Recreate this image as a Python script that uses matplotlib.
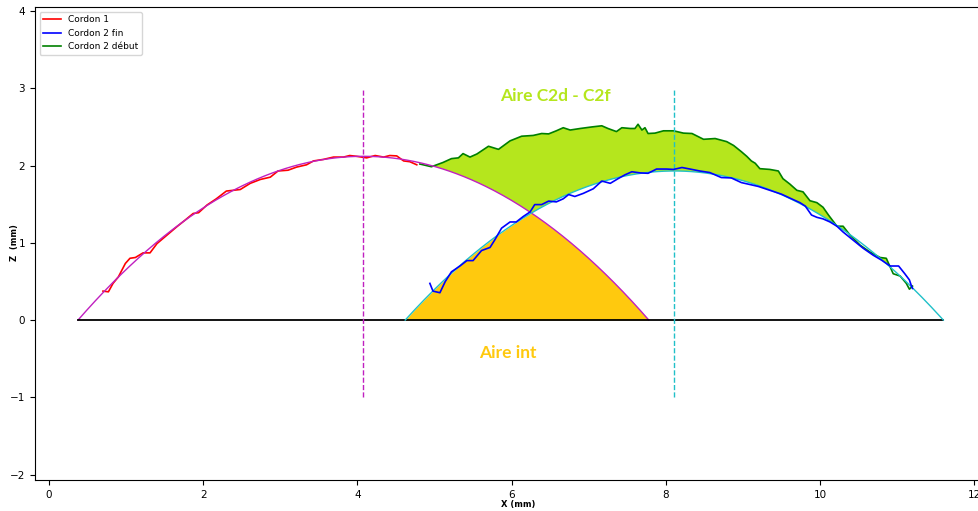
import numpy as np
import matplotlib
matplotlib.use("Agg")
import matplotlib.pyplot as plt

# ---- data ----
c1_x = [0.70, 0.77, 0.83, 0.90, 0.99, 1.05, 1.12, 1.22, 1.31, 1.40, 1.53, 1.66, 1.76, 1.87, 1.94,
        2.05, 2.17, 2.30, 2.39, 2.48, 2.61, 2.74, 2.87, 2.97, 3.10, 3.21, 3.34, 3.43, 3.56, 3.69,
        3.82, 3.90, 3.99, 4.12, 4.23, 4.34, 4.42, 4.51, 4.60, 4.68, 4.77]
c1_z = [0.375, 0.366, 0.475, 0.56, 0.733, 0.80, 0.81, 0.87, 0.87, 0.99, 1.10, 1.21, 1.29, 1.38, 1.39,
        1.49, 1.57, 1.67, 1.68, 1.69, 1.77, 1.82, 1.85, 1.93, 1.94, 1.98, 2.01, 2.06, 2.08, 2.11,
        2.11, 2.13, 2.12, 2.10, 2.13, 2.11, 2.13, 2.125, 2.06, 2.05, 2.01]

c2f_x = [4.94, 4.98, 5.07, 5.14, 5.22, 5.33, 5.42, 5.50, 5.61, 5.72, 5.78, 5.87, 5.98, 6.06, 6.15,
         6.24, 6.30, 6.39, 6.48, 6.58, 6.67, 6.74, 6.82, 6.93, 7.06, 7.17, 7.28, 7.38, 7.47, 7.56,
         7.67, 7.77, 7.88, 8.01, 8.10, 8.21, 8.34, 8.44, 8.57, 8.72, 8.85, 8.98, 9.20, 9.35, 9.50,
         9.63, 9.74, 9.81, 9.89, 9.96, 10.04, 10.13, 10.22, 10.30, 10.43, 10.56, 10.69, 10.80, 10.91,
         11.02, 11.10, 11.16, 11.19, 11.20]
c2f_z = [0.475, 0.375, 0.354, 0.50, 0.625, 0.70, 0.77, 0.77, 0.90, 0.94, 1.035, 1.19, 1.27, 1.27, 1.34,
         1.40, 1.495, 1.495, 1.54, 1.53, 1.57, 1.625, 1.60, 1.64, 1.70, 1.80, 1.77, 1.83, 1.88, 1.92,
         1.905, 1.90, 1.955, 1.955, 1.95, 1.975, 1.95, 1.93, 1.91, 1.845, 1.84, 1.78, 1.73, 1.68, 1.63,
         1.57, 1.52, 1.475, 1.36, 1.33, 1.31, 1.27, 1.215, 1.14, 1.035, 0.93, 0.84, 0.775, 0.70,
         0.70, 0.60, 0.52, 0.43, 0.41]

c2d_x = [4.81, 4.96, 5.11, 5.22, 5.31, 5.37, 5.46, 5.55, 5.70, 5.83, 5.98, 6.13, 6.28, 6.39, 6.48,
         6.58, 6.67, 6.76, 6.89, 7.04, 7.17, 7.25, 7.36, 7.43, 7.54, 7.60, 7.64, 7.69, 7.73, 7.77,
         7.86, 7.97, 8.10, 8.23, 8.34, 8.49, 8.64, 8.79, 8.88, 8.98, 9.05, 9.11, 9.16, 9.22, 9.35,
         9.46, 9.52, 9.61, 9.70, 9.78, 9.87, 9.96, 10.04, 10.11, 10.22, 10.30, 10.39, 10.52, 10.65,
         10.78, 10.86, 10.95, 11.04, 11.12, 11.16, 11.20]
c2d_z = [2.02, 1.985, 2.04, 2.09, 2.10, 2.155, 2.11, 2.15, 2.25, 2.21, 2.32, 2.38, 2.39, 2.415, 2.41,
         2.45, 2.49, 2.46, 2.48, 2.50, 2.515, 2.48, 2.44, 2.49, 2.48, 2.48, 2.535, 2.46, 2.49, 2.415,
         2.42, 2.45, 2.45, 2.42, 2.415, 2.34, 2.35, 2.31, 2.26, 2.18, 2.12, 2.06, 2.03, 1.96, 1.95,
         1.93, 1.83, 1.76, 1.68, 1.66, 1.545, 1.52, 1.46, 1.36, 1.215, 1.215, 1.10, 0.97, 0.88,
         0.81, 0.80, 0.60, 0.57, 0.475, 0.40, 0.44]

# fitted parabolas (roots and apex height)
fit1_roots = [0.376, 7.78]
fit1_peak = 2.12
fit2_roots = [4.62, 11.60]
fit2_peak = 1.93

# ---- helpers ----
def parab(x, roots, peak):
    c = 0.5 * (roots[0] + roots[1])
    h = 0.5 * (roots[1] - roots[0])
    return peak * (1 - ((x - c) / h) ** 2)

c1_mid = 0.5 * (fit1_roots[0] + fit1_roots[1])
c2_mid = 0.5 * (fit2_roots[0] + fit2_roots[1])

fig = plt.figure(figsize=(9.79, 5.11), dpi=100)
ax = fig.add_axes([35 / 979, 31 / 511, 951.5 / 979, 472.8 / 511])

LIME = "#b5e61d"
ORANGE = "#ffc90e"
MAG = "#c020c0"
CYAN = "#20c0c8"

# green fill between C2 debut and upper envelope of fits
xg = np.linspace(min(c2d_x), max(c2d_x), 800)
zg = np.interp(xg, c2d_x, c2d_z)
low = np.maximum(parab(xg, fit1_roots, fit1_peak), parab(xg, fit2_roots, fit2_peak))
ax.fill_between(xg, low, zg, where=zg > low, interpolate=True, color=LIME, lw=0)

# orange intersection area
xo = np.linspace(fit2_roots[0], fit1_roots[1], 400)
zo = np.minimum(parab(xo, fit1_roots, fit1_peak), parab(xo, fit2_roots, fit2_peak))
ax.fill_between(xo, 0, np.clip(zo, 0, None), color=ORANGE, lw=0)

# data
ax.plot(c1_x, c1_z, color="red", lw=1.2, label="Cordon 1")
ax.plot(c2f_x, c2f_z, color="blue", lw=1.2, label="Cordon 2 fin", zorder=4)
ax.plot(c2d_x, c2d_z, color="green", lw=1.2, label="Cordon 2 d\u00e9but")

# fits
x1 = np.linspace(fit1_roots[0], fit1_roots[1], 400)
ax.plot(x1, parab(x1, fit1_roots, fit1_peak), color=MAG, lw=1.0)
x2 = np.linspace(fit2_roots[0], fit2_roots[1], 400)
ax.plot(x2, parab(x2, fit2_roots, fit2_peak), color=CYAN, lw=1.0, zorder=3)

# baseline and vertical markers
ax.plot([fit1_roots[0], fit2_roots[1]], [0, 0], color="black", lw=1.3)
ax.plot([c1_mid, c1_mid], [-1, 3], color=MAG, lw=1.0, ls="--")
ax.plot([c2_mid, c2_mid], [-1, 3], color=CYAN, lw=1.0, ls="--")

ax.text(6.57, 2.90, "Aire C2d - C2f", color=LIME, fontsize=12.5, fontweight="bold",
        family="Lato", ha="center", va="center")
ax.text(5.95, -0.42, "Aire int", color=ORANGE, fontsize=12.5, fontweight="bold",
        family="Lato", ha="center", va="center")

ax.set_xlim(-0.182, 12.16)
ax.set_ylim(-2.07, 4.05)
ax.set_xticks([0, 2, 4, 6, 8, 10, 12])
ax.set_yticks([-2, -1, 0, 1, 2, 3, 4])
ax.set_yticklabels(["\u22122", "\u22121", "0", "1", "2", "3", "4"])
ax.tick_params(labelsize=7.5)
fig.text(518 / 979, 1 - 504 / 511, "X (mm)", fontsize=6, fontweight="bold",
         ha="center", va="center")
fig.text(14 / 979, 1 - 243 / 511, "Z  (mm)", fontsize=6, fontweight="bold",
         ha="center", va="center", rotation=90)
ax.legend(loc="upper left", fontsize=6.5)

fig.savefig("out.png", dpi=100)
